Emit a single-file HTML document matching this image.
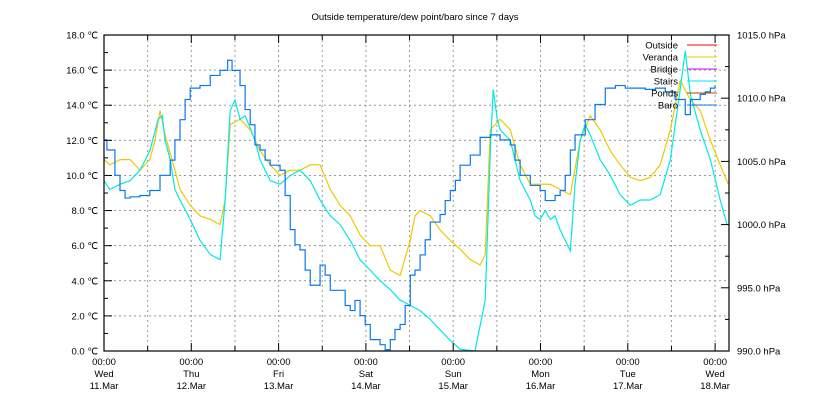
<!DOCTYPE html>
<html><head><meta charset="utf-8"><style>
body{margin:0;background:#fff;width:820px;height:400px;overflow:hidden}
svg text{font-family:"Liberation Sans",sans-serif;font-size:9.5px;fill:#000}
</style></head><body>
<svg id="c" width="820" height="400">
<text x="415" y="20" text-anchor="middle">Outside temperature/dew point/baro since 7 days</text>
</svg>
<script>
const dayLabels=["Wed","Thu","Fri","Sat","Sun","Mon","Tue","Wed"];
const dateLabels=["11.Mar","12.Mar","13.Mar","14.Mar","15.Mar","16.Mar","17.Mar","18.Mar"];
const leftTicks=[0,2,4,6,8,10,12,14,16,18];
const rightTicks=[990,995,1000,1005,1010,1015];
const legendNames=["Outside","Veranda","Bridge","Stairs","Ponds","Baro"];
const legendColors=["#ff0000","#f0c800","#cc00ff","#00e8e8","#c04000","#0a78f0"];
const stairsH=[0,1.6,4.4,7.2,9.9,12.6,14.9,16,16.8,18.2,19.5,20.9,23.7,26.4,29.2,31.9,33.3,34.7,36,37.4,38.8,40.2,41.5,42.9,45.7,48.4,51.2,53.9,56.7,59.4,62.2,64.9,67.7,70.4,73.2,75.9,78.7,81.4,84.2,86.9,89.7,92.4,95.2,97.9,102,104.8,106.2,107,108.1,108.9,111.7,113,114.4,117.2,118.5,119.9,121.3,122.7,124,125.4,126.8,128.2,129.5,130.9,132.3,133.7,136.4,139.2,141.9,144.7,147.4,150.2,152.9,155.7,158.4,159.8,161.2,163.9,166.7,169.4,171.3];
const stairsV=[9.7,9.2,9.5,9.7,10.3,11.4,13.2,13.4,12.0,10.9,9.2,8.6,7.5,6.3,5.5,5.2,8.6,13.7,14.3,13.2,13.4,12.7,12.0,10.9,9.7,9.5,10.0,10.3,9.7,8.6,7.7,7.2,6.3,5.2,4.6,4.0,3.5,2.9,2.6,2.3,1.8,1.2,0.6,0.1,0,2.9,11.4,14.9,13.2,12.6,12.0,10.9,9.7,8.6,7.7,7.5,8.0,7.5,7.7,6.9,6.3,5.7,9.5,12.0,12.9,12.3,10.9,10.0,8.9,8.3,8.6,8.6,8.9,10.9,14.9,17.1,14.6,12.6,10.9,8.6,7.2];
const verandaH=[0,1.6,4.4,7.2,9.9,12.6,14,15.4,16.8,19.5,20.9,23.7,26.4,29.2,31.9,33.3,34.7,37.4,40.2,42.9,45.7,48.4,51.2,53.9,56.7,59.4,62.2,64.9,67.7,70.4,73.2,75.9,78.7,81.4,84.2,85.5,86.9,89.7,92.4,95.2,97.9,100.7,103.4,104.8,106.2,108.9,111.7,114.4,117.2,119.9,122.7,125.4,128.2,130.9,133.7,136.4,139.2,141.9,144.7,147.4,150.2,152.9,155.7,158.4,161.2,163.9,166.7,169.4,171.6];
const verandaV=[10.9,10.6,10.9,10.9,10.3,10.9,12.0,13.7,12.3,10.3,9.2,8.3,7.7,7.5,7.2,8.6,12.9,13.2,12.6,11.4,10.6,10.0,10.3,10.3,10.6,10.6,9.2,8.3,7.7,6.6,6.0,6.0,4.6,4.3,6.3,7.7,8.0,7.7,6.9,6.3,5.8,5.2,4.9,5.5,12.6,13.2,12.6,10.6,9.5,9.5,9.5,9.2,8.9,12.0,13.4,12.6,11.4,10.6,9.9,9.7,9.9,10.6,12.6,15.4,14.3,13.7,12.0,10.6,9.5];
const baroH=[0,0.8,3,4.4,5.8,7.2,9.9,12.6,15.4,18.2,19.5,20.9,22.3,23.7,26.4,29.2,31.9,34,35.2,37.4,38.8,40.2,41.5,42.9,44.3,45.7,48.4,49.8,51.2,52.5,53.9,55.3,56.7,58,59.4,60.8,62.2,64.9,66.3,67.7,69,70.4,71.8,73.2,74.5,75.9,77.3,78.7,80,81.4,82.8,84.2,85.5,86.9,88.3,89.7,92.4,93.8,95.2,96.6,97.9,100.7,103.4,106.2,108.9,110.3,111.7,113,114.4,117.2,119.9,121.3,124,125.4,126.8,128.2,129.5,132.3,135,137.8,140.6,143.3,146,148.8,151.6,154.3,157,159.8,161.2,163.9,165.3,166.7,168];
const baroV=[1006.7,1005.9,1003.9,1002.7,1002.1,1002.2,1002.3,1002.7,1003.9,1005.1,1006.7,1008.3,1009.9,1010.8,1011.0,1011.8,1012.2,1013.0,1012.2,1011.0,1009.1,1007.9,1006.3,1005.9,1005.1,1004.7,1004.3,1002.3,999.6,998.4,998.0,996.4,995.2,995.2,996.8,996.0,994.8,994.8,993.6,993.2,994.0,992.8,992.1,990.9,990.9,990.5,990.1,990.9,991.7,992.1,993.6,996.0,996.4,997.6,998.8,1000.2,1000.8,1001.9,1002.7,1003.5,1004.7,1005.5,1006.9,1007.1,1006.7,1006.7,1006.3,1005.1,1003.9,1003.1,1002.7,1001.9,1002.3,1002.7,1003.9,1005.9,1007.1,1008.3,1009.5,1010.8,1011.0,1010.8,1010.8,1010.7,1010.8,1010.5,1009.9,1008.7,1009.9,1010.3,1010.5,1010.8,1011.0];

const L=104,R=729,T=35,B=351,HPX=87.3/24;
const xS=h=>L+h*HPX;
const yT=v=>B-v*(B-T)/18;
const yP=v=>B-(v-990)*(B-T)/25;
const NS="http://www.w3.org/2000/svg";
const svg=document.getElementById('c');
function mk(tag,a,txt){const e=document.createElementNS(NS,tag);for(const k in a)e.setAttribute(k,a[k]);if(txt!==undefined)e.textContent=txt;svg.appendChild(e);return e;}
// grid
for(let i=1;i<leftTicks.length-1;i++){const y=yT(leftTicks[i]);
const g=mk('line',{x1:L,x2:R,y1:y,y2:y,stroke:'#999','stroke-dasharray':'2,3'});

}
for(let d=1;d<=14;d++){const x=xS(d*12);if(x>=R)break;
const g=mk('line',{x1:x,x2:x,y1:T,y2:B,stroke:'#999','stroke-dasharray':'2,3'});

}
// series
function path(H,V,ys,col,step,name){let d='';for(let i=0;i<H.length;i++){const x=xS(H[i]),y=ys(V[i]);
if(i===0)d='M'+x+','+y;else if(step)d+='H'+x+'V'+y;else d+='L'+x+','+y;}
const p=mk('path',{d:d,fill:'none',stroke:col,'stroke-width':1.2});

}
path(verandaH,verandaV,yT,'#f0c800',false,'veranda-line');
path(stairsH,stairsV,yT,'#00e8e8',false,'stairs-line');
path(baroH,baroV,yP,'#0a78f0',true,'baro-line');
// frame
const f=mk('rect',{x:L,y:T,width:R-L,height:B-T,fill:'none',stroke:'#000','stroke-width':1.2});


// left ticks
for(let i=0;i<leftTicks.length;i++){const v=leftTicks[i],y=yT(v);
mk('line',{x1:L,x2:L+8,y1:y,y2:y,stroke:'#000'});
if(i<leftTicks.length-1){const ym=yT(v+1);mk('line',{x1:L,x2:L+4,y1:ym,y2:ym,stroke:'#000'});}
const t=mk('text',{x:L-6,y:y+3.5,'text-anchor':'end'},v.toFixed(1)+' ℃');

}
for(let i=0;i<rightTicks.length;i++){const v=rightTicks[i],y=yP(v);
mk('line',{x1:R-8,x2:R,y1:y,y2:y,stroke:'#000'});
if(i<rightTicks.length-1){const ym=yP(v+2.5);mk('line',{x1:R-4,x2:R,y1:ym,y2:ym,stroke:'#000'});}
const t=mk('text',{x:R+8,y:y+3.5},v.toFixed(1)+' hPa');

}
// x ticks
for(let d=0;d<=14;d++){const x=xS(d*12);if(x>R)break;
mk('line',{x1:x,x2:x,y1:B-(d%2?5:8),y2:B,stroke:'#000'});
mk('line',{x1:x,x2:x,y1:T,y2:T+(d%2?5:8),stroke:'#000'});}
for(let d=0;d<dayLabels.length;d++){const x=xS(d*24);
const a=mk('text',{x:x,y:365,'text-anchor':'middle'},'00:00');


const b=mk('text',{x:x,y:377,'text-anchor':'middle'},dayLabels[d]);


const c=mk('text',{x:x,y:389,'text-anchor':'middle'},dateLabels[d]);

}
// legend
for(let i=0;i<legendNames.length;i++){const y=45+i*12;
const t=mk('text',{x:678,y:y+3.5,'text-anchor':'end'},legendNames[i]);


mk('line',{x1:687,x2:717,y1:y,y2:y,stroke:legendColors[i],'stroke-width':1});}
</script>
</body></html>
